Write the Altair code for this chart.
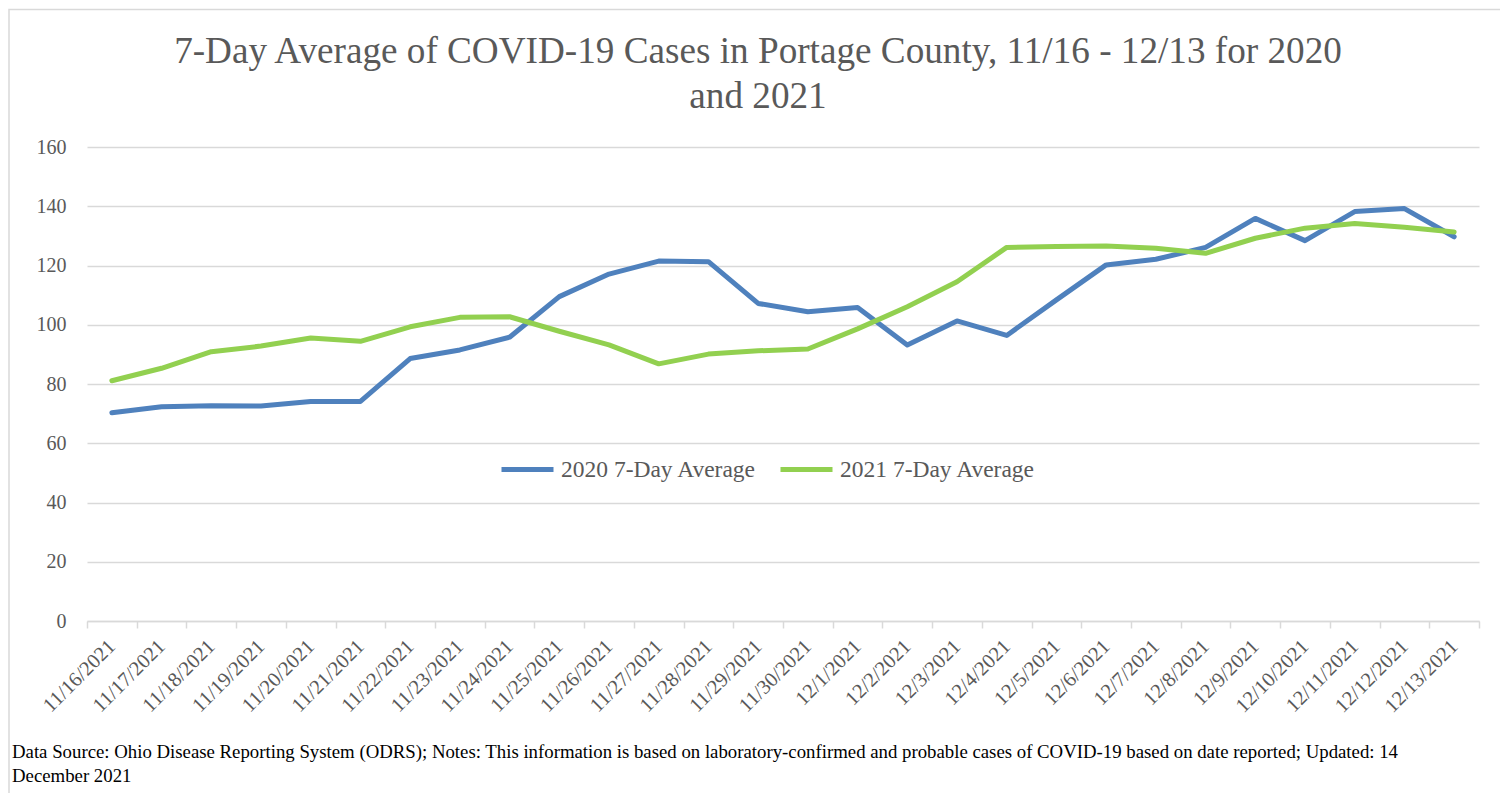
import altair as alt
import pandas as pd

dates = ["11/16/2021", "11/17/2021", "11/18/2021", "11/19/2021", "11/20/2021",
         "11/21/2021", "11/22/2021", "11/23/2021", "11/24/2021", "11/25/2021",
         "11/26/2021", "11/27/2021", "11/28/2021", "11/29/2021", "11/30/2021",
         "12/1/2021", "12/2/2021", "12/3/2021", "12/4/2021", "12/5/2021",
         "12/6/2021", "12/7/2021", "12/8/2021", "12/9/2021", "12/10/2021",
         "12/11/2021", "12/12/2021", "12/13/2021"]

avg_2020 = [70.3, 72.3, 72.7, 72.6, 74.1, 74.1, 88.6, 91.5, 95.8, 109.5,
            117.1, 121.5, 121.3, 107.2, 104.4, 105.8, 93.2, 101.3, 96.4, 108.4,
            120.2, 122.1, 126.1, 135.9, 128.4, 138.2, 139.2, 129.7]

avg_2021 = [81.1, 85.3, 90.9, 92.8, 95.5, 94.4, 99.3, 102.5, 102.7, 97.8,
            93.2, 86.8, 90.1, 91.2, 91.8, 98.6, 106.1, 114.5, 126.1, 126.4,
            126.6, 125.8, 124.1, 129.2, 132.6, 134.2, 132.9, 131.3]

series_names = ["2020 7-Day Average", "2021 7-Day Average"]
series_colors = ["#4F81BD", "#92D050"]

title_lines = ["7-Day Average of COVID-19 Cases in Portage County, 11/16 - 12/13 for 2020",
               "and 2021"]
footnote_lines = [
    "Data Source: Ohio Disease Reporting System (ODRS); Notes: This information is based on laboratory-confirmed and probable cases of COVID-19 based on date reported; Updated: 14",
    "December 2021",
]

rows = []
for d, v in zip(dates, avg_2020):
    rows.append({"date": d, "value": v, "series": series_names[0]})
for d, v in zip(dates, avg_2021):
    rows.append({"date": d, "value": v, "series": series_names[1]})
df = pd.DataFrame(rows)

SERIF = "Liberation Serif"
GRAY = "#595959"
LINEC = "#D9D9D9"

W, H = 1392, 474

lines = alt.Chart(df).mark_line(strokeWidth=5, strokeCap="round", strokeJoin="round").encode(
    x=alt.X("date:N", sort=dates, title=None,
            scale=alt.Scale(paddingInner=0, paddingOuter=0),
            axis=alt.Axis(labelAngle=-45, labelAlign="right", labelBaseline="middle",
                          labelFont=SERIF, labelFontSize=20.5, labelColor=GRAY,
                          labelPadding=15, domainColor=LINEC, domainWidth=1.5,
                          tickColor=LINEC, tickWidth=1.5, tickSize=7,
                          tickBand="extent", grid=False, labelOverlap=False)),
    y=alt.Y("value:Q", title=None,
            scale=alt.Scale(domain=[0, 160], nice=False),
            axis=alt.Axis(values=list(range(0, 161, 20)), labelFont=SERIF,
                          labelFontSize=20, labelColor=GRAY, labelPadding=21,
                          ticks=False, domain=False, gridColor=LINEC, gridWidth=1.5)),
    color=alt.Color("series:N", sort=series_names,
                    scale=alt.Scale(domain=series_names, range=series_colors),
                    legend=alt.Legend(title=None, orient="none", direction="horizontal",
                                      legendX=412, legendY=294,
                                      symbolType="stroke", symbolSize=2704,
                                      symbolStrokeWidth=5, labelFont=SERIF,
                                      labelFontSize=23.5, labelColor=GRAY, labelLimit=0,
                                      labelOffset=5, columnPadding=13)),
)

one = pd.DataFrame({"k": [0]})

border = alt.Chart(one).mark_rect(
    fillOpacity=0, stroke=LINEC, strokeWidth=1.5
).encode(
    x=alt.value(-78), x2=alt.value(1500),
    y=alt.value(-137.5), y2=alt.value(700),
)

title = alt.Chart(one).mark_text(
    align="center", baseline="alphabetic", font=SERIF, fontSize=37.2,
    color=GRAY, lineHeight=45
).encode(
    x=alt.value(671), y=alt.value(-84),
    text=alt.value(title_lines),
)

foot = alt.Chart(one).mark_text(
    align="left", baseline="alphabetic", font=SERIF, fontSize=18.8,
    color="#000000", lineHeight=24
).encode(
    x=alt.value(-75), y=alt.value(611),
    text=alt.value(footnote_lines),
)

chart = alt.layer(border, lines, title, foot).properties(
    width=W, height=H,
    autosize="none",
    background="white",
    padding={"left": 79, "top": 139, "right": 21, "bottom": 172},
).configure_view(stroke=None)

chart.save("out.html", embed_options={"renderer": "svg", "actions": False})
